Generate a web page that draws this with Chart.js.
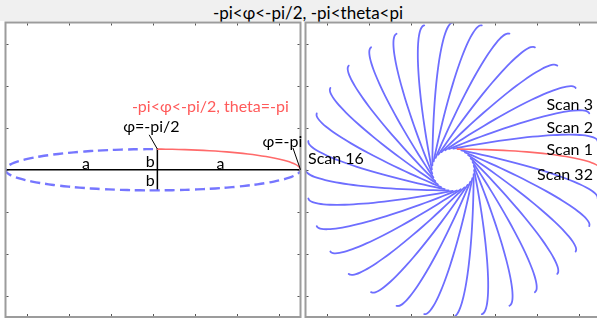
<!DOCTYPE html>
<html><head><meta charset="utf-8">
<script src="https://cdn.jsdelivr.net/npm/chart.js@4.4.0/dist/chart.umd.min.js"></script>
<style>
html,body{margin:0;padding:0;width:597px;height:322px;overflow:hidden;background:#fff;}
#title{position:absolute;left:0;top:0;width:597px;height:21px;background:#f0f0f0;}
#title span{position:absolute;left:0;width:616px;text-align:center;top:2px;line-height:21px;font:17px Lato,"Open Sans",sans-serif;color:#000;white-space:nowrap;}
#c1{position:absolute;left:0;top:18px;}
#c2{position:absolute;left:302px;top:18px;}
</style></head><body>
<div id="title"><span>-pi&lt;φ&lt;-pi/2, -pi&lt;theta&lt;pi</span></div>
<canvas id="c1" width="304" height="304"></canvas>
<canvas id="c2" width="302" height="304"></canvas>
<script>
// ---- data ----
const axisHalfRange = 3.5;            // both panels: -3.5 .. 3.5
const tickValues = [-3, -2, -1, 0, 1, 2, 3];
const semiMajor = 3.5;                 // "a"
const semiMinor = 0.49;                // "b"
// phi samples (degrees) for the scan curve: -pi < phi < -pi/2
const quarterPhiDeg = [-180,-175,-170,-165,-160,-155,-150,-145,-140,-135,-130,-125,-120,-115,-110,-105,-100,-95,-91.7];
// phi samples (degrees) for the remaining dashed part of the ellipse
const ellipsePhiDeg = [-90,-85,-80,-75,-70,-65,-60,-55,-50,-45,-40,-35,-30,-25,-20,-15,-10,-5,0,5,10,15,20,25,30,35,40,45,50,55,60,65,70,75,80,85,90,95,100,105,110,115,120,125,130,135,140,145,150,155,160,165,170,175,180];
// theta of each scan (degrees), Scan 1 .. Scan 32
const scanThetaDeg = [-180,-168.75,-157.5,-146.25,-135,-123.75,-112.5,-101.25,-90,-78.75,-67.5,-56.25,-45,-33.75,-22.5,-11.25,0,11.25,22.5,33.75,45,56.25,67.5,78.75,90,101.25,112.5,123.75,135,146.25,157.5,168.75];
const scanNames = scanThetaDeg.map((t,i)=>'Scan '+(i+1));

const BLUE = '#6e6eff', BLUE_DASH = '#7676ff', RED = '#ff6a6a', RED_TEXT = '#ff5a5a';
const FONT = '16px Lato, "Open Sans", sans-serif';
const rad = d => d*Math.PI/180;
const ellipsePt = p => ({x: -semiMajor*Math.cos(rad(p)), y: -semiMinor*Math.sin(rad(p))});
function scanPoints(thetaDeg){
  const r = rad(thetaDeg + 180);
  return quarterPhiDeg.map(p => { const q = ellipsePt(p);
    return {x: q.x*Math.cos(r) - q.y*Math.sin(r), y: q.x*Math.sin(r) + q.y*Math.cos(r)}; });
}
const startPt = ellipsePt(quarterPhiDeg[quarterPhiDeg.length-1]);

function framePlugin(labels, leaders){
  return { id:'frame', afterDatasetsDraw(chart){
    const {ctx, chartArea:a, scales:{x, y}} = chart;
    ctx.save();
    ctx.strokeStyle = '#9c9c9c'; ctx.lineWidth = 2;
    ctx.strokeRect(a.left, a.top, a.right-a.left, a.bottom-a.top);
    ctx.strokeStyle = '#555'; ctx.lineWidth = 1;
    ctx.beginPath();
    tickValues.forEach(v => {
      const px = Math.round(x.getPixelForValue(v))+0.5, py = Math.round(y.getPixelForValue(v))+0.5;
      ctx.moveTo(px, a.top+1); ctx.lineTo(px, a.top+3);
      ctx.moveTo(px, a.bottom-1); ctx.lineTo(px, a.bottom-3);
      ctx.moveTo(a.left+1, py); ctx.lineTo(a.left+3, py);
      ctx.moveTo(a.right-1, py); ctx.lineTo(a.right-3, py);
    });
    ctx.stroke();
    ctx.strokeStyle = '#000'; ctx.lineWidth = 1;
    leaders.forEach(l => { ctx.beginPath();
      ctx.moveTo(x.getPixelForValue(l[0]), y.getPixelForValue(l[1]));
      ctx.lineTo(x.getPixelForValue(l[2]), y.getPixelForValue(l[3])); ctx.stroke(); });
    ctx.font = FONT; ctx.textBaseline = 'middle';
    labels.forEach(t => { ctx.fillStyle = t.color || '#000'; ctx.textAlign = t.align || 'center';
      ctx.fillText(t.text, x.getPixelForValue(t.x), y.getPixelForValue(t.y)); });
    ctx.restore();
  }};
}

const baseOptions = (pad) => ({
  responsive:false, animation:false, events:[],
  layout:{padding:pad},
  plugins:{legend:{display:false}, tooltip:{enabled:false}, title:{display:false}},
  elements:{point:{radius:0}, line:{tension:0.4, borderCapStyle:'round'}},
  scales:{
    x:{type:'linear', min:-axisHalfRange, max:axisHalfRange, display:false},
    y:{type:'linear', min:-axisHalfRange, max:axisHalfRange, display:false}
  }
});

// ---- left panel ----
new Chart(document.getElementById('c1'), {
  type:'scatter',
  data:{datasets:[
    {data: quarterPhiDeg.map(ellipsePt), showLine:true, borderColor:RED, borderWidth:1.6, order:0},
    {data: ellipsePhiDeg.map(ellipsePt), showLine:true, borderColor:BLUE_DASH, borderWidth:2.4, borderDash:[10,5], borderCapStyle:'butt', order:1},
    {data: [{x:-semiMajor, y:0},{x:semiMajor, y:0}], showLine:true, borderColor:'#000', borderWidth:1.5, tension:0, order:2},
    {data: [{x:startPt.x, y:-semiMinor},{x:startPt.x, y:semiMinor}], showLine:true, borderColor:'#000', borderWidth:1.5, tension:0, order:2}
  ]},
  options: baseOptions({left:5.5, right:3.5, top:4.5, bottom:5}),
  plugins:[framePlugin([
    {text:'-pi<φ<-pi/2, theta=-pi', x:1.36, y:1.49, color:RED_TEXT},
    {text:'φ=-pi/2', x:-0.04, y:1.015},
    {text:'φ=-pi', x:3.07, y:0.66},
    {text:'a', x:-1.59, y:0.14},
    {text:'a', x:1.60, y:0.14},
    {text:'b', x:-0.064, y:0.19},
    {text:'b', x:-0.064, y:-0.27}
  ], [[-0.09, 0.83, startPt.x, semiMinor],[3.32, 0.52, semiMajor, 0]])]
});

// ---- right panel ----
new Chart(document.getElementById('c2'), {
  type:'scatter',
  data:{datasets: scanThetaDeg.map((t,i) => ({
    label: scanNames[i], data: scanPoints(t), showLine:true,
    borderColor: i===0 ? RED : BLUE, borderWidth: i===0 ? 1.6 : 1.8, order: i===0 ? 0 : 1
  }))},
  options: baseOptions({left:3.5, right:3.5, top:4.5, bottom:5}),
  plugins:[framePlugin([
    {text:'Scan 3', x:3.32, y:1.55, align:'right'},
    {text:'Scan 2', x:3.32, y:0.99, align:'right'},
    {text:'Scan 1', x:3.32, y:0.47, align:'right'},
    {text:'Scan 32', x:3.32, y:-0.125, align:'right'},
    {text:'Scan 16', x:-3.44, y:0.255, align:'left'}
  ], [])]
});
</script>
</body></html>
